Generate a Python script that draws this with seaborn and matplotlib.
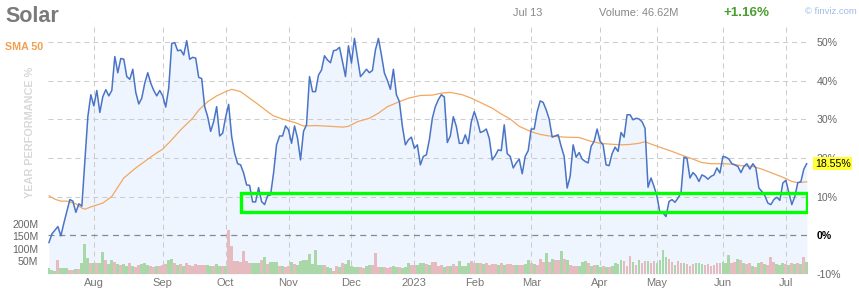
import matplotlib
matplotlib.use("Agg")
import matplotlib.pyplot as plt
import matplotlib.transforms as mtransforms
from matplotlib.patches import Rectangle
import seaborn as sns
import pandas as pd

sns.set_theme(style="white")
plt.rcParams['font.family'] = ['Liberation Sans', 'DejaVu Sans']

# ---------------- data (trading-day index 0 = Jul 11 2022) ----------------
perf_days = [0, 1, 3, 4, 5, 6, 7, 8, 9, 10, 11, 13, 14, 15, 16, 17, 18, 19, 20, 21,
             22, 23, 24, 25, 26, 27, 28, 29, 30, 31, 32, 33, 34, 35, 36, 37, 38, 39, 40, 41,
             42, 43, 44, 45, 46, 47, 48, 49, 50, 51, 52, 53, 54, 55, 56, 57, 58, 59, 60, 61,
             62, 63, 64, 65, 66, 67, 68, 69, 70, 71, 72, 73, 74, 75, 76, 77, 78, 79, 80, 81,
             82, 83, 84, 85, 86, 87, 88, 89, 90, 91, 92, 93, 94, 95, 96, 97, 98, 99, 100, 101,
             102, 104, 105, 106, 107, 108, 109, 110, 111, 112, 113, 114, 115, 116, 117, 118, 119, 120, 121, 122,
             123, 124, 125, 126, 127, 128, 129, 130, 131, 132, 133, 134, 135, 136, 137, 138, 139, 140, 141, 142,
             143, 144, 145, 146, 147, 148, 149, 150, 151, 152, 153, 154, 155, 156, 157, 158, 159, 160, 161, 162,
             163, 164, 165, 166, 167, 168, 169, 170, 171, 172, 173, 174, 175, 176, 177, 178, 179, 180, 181, 182,
             183, 184, 185, 186, 187, 188, 189, 190, 191, 192, 193, 194, 195, 196, 197, 198, 199, 200, 201, 202,
             203, 204, 205, 206, 207, 208, 209, 210, 211, 212, 213, 214, 215, 216, 217, 218, 219, 220, 221, 222,
             223, 224, 225, 226, 227, 228, 229, 230, 231, 232, 233, 234, 235, 236, 237, 238, 239, 240, 241, 242,
             243, 244, 245, 246, 248, 249, 250, 251, 252, 253]
perf_vals = [-2.0, 0.3, 2.2, -0.2, 3.1, 6.1, 9.2, 8.8, 5.9, 8.1, 7.5, 30.7, 36.4, 33.5, 37.5, 31.8, 35.9, 37.7, 36.1, 37.5,
             46.3, 42.1, 45.8, 45.6, 41.1, 40.4, 43.0, 37.0, 34.0, 35.5, 39.4, 42.1, 39.4, 37.5, 36.1, 37.5, 36.1, 33.2, 38.1, 49.7,
             49.9, 47.8, 48.0, 46.7, 50.4, 45.6, 46.1, 45.9, 40.9, 40.6, 33.3, 30.7, 26.9, 29.4, 33.3, 25.7, 26.4, 30.6, 33.9, 25.6,
             21.2, 18.5, 18.2, 16.1, 13.0, 12.9, 8.6, 8.6, 12.3, 8.7, 7.9, 10.2, 10.4, 16.1, 23.4, 25.7, 25.7, 28.3, 27.3, 23.8,
             28.3, 25.1, 19.5, 26.9, 28.6, 41.1, 37.2, 37.2, 41.5, 42.8, 46.5, 45.4, 44.7, 47.8, 48.0, 48.7, 45.0, 41.1, 49.1, 44.6,
             51.0, 41.1, 42.0, 43.0, 42.1, 42.7, 48.0, 51.0, 46.7, 42.0, 40.1, 37.8, 43.0, 36.4, 34.6, 28.2, 23.4, 24.7, 25.4, 22.5,
             23.4, 18.2, 20.4, 20.8, 24.7, 30.3, 33.3, 35.1, 36.4, 35.8, 24.0, 25.7, 30.7, 28.2, 23.8, 23.8, 26.0, 23.7, 29.4, 32.0,
             29.7, 26.6, 26.9, 27.5, 25.1, 19.5, 20.6, 22.1, 21.9, 28.6, 21.1, 20.4, 17.4, 18.7, 19.7, 15.9, 20.4, 21.9, 27.5, 27.5,
             32.0, 34.8, 34.4, 32.5, 30.1, 25.4, 25.7, 26.0, 23.0, 20.4, 12.2, 15.2, 23.4, 20.2, 21.4, 19.7, 19.1, 18.7, 23.0, 24.3,
             27.5, 24.3, 23.4, 18.2, 18.0, 21.1, 22.8, 21.7, 26.6, 25.4, 31.2, 31.2, 29.9, 30.3, 30.1, 29.4, 27.7, 12.4, 14.8, 12.6,
             10.0, 5.7, 5.7, 4.8, 8.7, 9.2, 8.5, 9.6, 10.9, 20.2, 19.9, 14.8, 16.2, 15.4, 13.9, 15.6, 15.2, 14.5, 15.2, 15.6,
             17.4, 16.1, 20.4, 20.2, 19.7, 18.5, 18.2, 17.8, 16.2, 17.8, 18.5, 17.1, 18.5, 17.4, 12.2, 11.3, 10.2, 8.3, 7.9, 9.2,
             9.8, 9.0, 13.5, 14.2, 7.9, 10.0, 13.6, 13.8, 17.1, 18.55]

sma_days = [0, 2, 4, 6, 9, 11, 12, 14, 18, 21, 25, 29, 32, 35, 38, 41, 44, 48, 50, 53,
            56, 59, 61, 64, 67, 70, 73, 75, 78, 82, 85, 89, 94, 98, 100, 103, 107, 110, 113, 117,
            120, 124, 128, 131, 134, 138, 141, 144, 148, 151, 154, 157, 161, 164, 167, 172, 177, 181, 184, 187,
            191, 194, 197, 199, 201, 205, 208, 211, 215, 218, 221, 225, 228, 231, 235, 238, 241, 245, 248, 250, 253]
sma_vals = [10.2, 9.3, 8.8, 8.8, 8.1, 7.0, 6.7, 7.3, 8.3, 10.0, 14.8, 17.4, 19.1, 20.8, 22.3, 24.7, 27.3, 30.3, 32.4, 34.6,
            36.1, 37.2, 37.8, 37.2, 35.5, 33.8, 32.0, 30.9, 30.1, 29.2, 28.3, 28.4, 28.2, 28.0, 28.2, 29.4, 30.3, 31.6, 33.3, 34.6,
            35.5, 36.2, 36.3, 36.8, 37.0, 36.4, 35.5, 34.4, 32.9, 31.4, 30.1, 28.2, 26.8, 26.1, 25.7, 25.4, 25.3, 24.3, 23.8, 23.6,
            23.4, 23.5, 23.8, 24.2, 23.6, 22.5, 21.7, 20.8, 19.7, 18.8, 18.5, 18.5, 18.4, 18.0, 17.8, 17.1, 16.2, 15.0, 13.9, 13.6, 13.8]

# daily volume in millions, and direction of the day (g = up, r = down)
vol_m = [24, 17, 13, 55, 24, 24, 24, 16, 16, 20, 19, 42, 119, 63, 42, 45, 42, 42, 87, 56,
         40, 56, 46, 38, 35, 40, 30, 45, 30, 28, 35, 38, 42, 36, 30, 28, 30, 32, 34, 40,
         55, 60, 45, 35, 38, 30, 45, 35, 32, 38, 35, 36, 36, 36, 32, 32, 40, 32, 32, 32,
         175, 111, 52, 50, 49, 91, 52, 42, 42, 42, 42, 56, 66, 40, 46, 46, 46, 33, 32, 29,
         32, 49, 38, 36, 52, 56, 56, 79, 40, 95, 36, 36, 36, 26, 22, 13, 32, 26, 42, 40,
         56, 32, 26, 26, 26, 22, 32, 36, 36, 85, 26, 26, 26, 22, 26, 32, 26, 26, 22, 26,
         42, 36, 36, 36, 45, 42, 40, 36, 48, 49, 32, 36, 26, 32, 32, 40, 32, 53, 32, 32,
         45, 53, 45, 42, 45, 40, 42, 36, 40, 40, 36, 42, 36, 40, 40, 36, 36, 36, 36, 40,
         56, 42, 40, 36, 58, 49, 85, 49, 58, 56, 56, 91, 58, 56, 36, 32, 32, 32, 48, 50,
         42, 32, 36, 36, 29, 32, 26, 29, 32, 45, 40, 56, 53, 32, 71, 49, 36, 56, 42, 53,
         53, 42, 52, 42, 56, 95, 66, 61, 49, 36, 53, 42, 42, 40, 32, 40, 45, 45, 40, 36,
         40, 32, 36, 42, 45, 49, 45, 75, 42, 49, 58, 56, 45, 40, 42, 32, 26, 45, 49, 40,
         36, 66, 49, 40, 36, 45, 40, 36, 42, 40, 45, 38, 66, 49]
vol_dir = list("gggrgggrrgrgggrgrggr"
               "ggrgrggrgrrgggrrgrrr"
               "ggrgrgrrrrrrrggrggrg"
               "rrrrrrrrgggrgrgggrgr"
               "rgrgggggggggrggrrgrg"
               "ggggrrggrrrgrrrggrgg"
               "grrgggrgrrrrgrgrrggg"
               "grrgrgrrrrgrgrrrgrrg"
               "grgrrrgrgrrgrgrrrggg"
               "rgrggrgrggggrrrgrgrr"
               "grrggggrrgrrgrrrgggr"
               "rrrrrgggrrgrgrrgrgrg"
               "rrrgggrgrgrgrgrgrg")

month_pos = [15, 38, 59, 80, 101, 122, 142, 161, 184, 203, 225, 246]
month_labels = ['Aug', 'Sep', 'Oct', 'Nov', 'Dec', '2023', 'Feb', 'Mar', 'Apr', 'May', 'Jun', 'Jul']
pct_ticks = [-10, 0, 10, 20, 30, 40, 50]
pct_labels = ['-10%', '0%', '10%', '20%', '30%', '40%', '50%']
vol_ticks = [50, 100, 150, 200]
vol_labels = ['50M', '100M', '150M', '200M']
last_pct = 18.55
box_x0, box_x1 = 64, 253
box_lo, box_hi = 5.9, 10.8

# ---------------- figure ----------------
W, H = 859, 294
fig = plt.figure(figsize=(W / 100, H / 100), dpi=100)
fig.patch.set_facecolor('white')
rect = [48 / W, 20 / H, 760 / W, 251 / H]
XLIM = (-0.3, 253.4)
YLIM = (-10.1, 55)

ax = fig.add_axes(rect)
ax.set_xlim(*XLIM)
ax.set_ylim(*YLIM)
ax.fill_between(perf_days, perf_vals, YLIM[0], color='#eef5fe', lw=0, zorder=0)
dash = (0, (4.8, 3.8))
ax.axhline(0, color='#888888', lw=0.9, linestyle=dash, zorder=1)
for s in ax.spines.values():
    s.set_visible(False)

# volume
ax_vol = ax.twinx()
vdf = pd.DataFrame({'day': list(range(len(vol_m))), 'vol': vol_m,
                    'dir': ['up' if d == 'g' else 'down' for d in vol_dir[:len(vol_m)]]})
sns.barplot(data=vdf, x='day', y='vol', hue='dir', palette={'up': '#a9d7a8', 'down': '#e6bbc0'},
            native_scale=True, width=0.95, dodge=False, legend=False, errorbar=None,
            saturation=1, linewidth=0, ax=ax_vol)
ax_vol.set_ylim(0, 996)
ax_vol.set_xlim(*XLIM)
ax_vol.yaxis.tick_left()
ax_vol.yaxis.set_label_position('left')
ax_vol.set_yticks(vol_ticks, labels=vol_labels)
ax_vol.tick_params(axis='y', left=False, right=False, labelleft=True, labelright=False,
                   length=0, pad=7, labelsize=7.6, labelcolor='#666666')
ax_vol.tick_params(axis='x', bottom=False, labelbottom=False)
ax_vol.set_xlabel('')
ax_vol.set_ylabel('')
for s in ax_vol.spines.values():
    s.set_visible(False)

# percent axis on the right, months at the bottom
ax.set_yticks(pct_ticks, labels=pct_labels)
ax.set_xticks(month_pos, labels=month_labels)
ax.set_xlim(*XLIM)
ax.yaxis.tick_right()
ax.tick_params(axis='y', left=False, right=False, labelleft=False, labelright=True,
               length=0, pad=6, labelsize=7.6, labelcolor='#666666')
ax.tick_params(axis='x', length=0, pad=3, labelsize=8, labelcolor='#777777', labelbottom=True)
for lbl in ax.get_yticklabels():
    if lbl.get_text() == '0%':
        lbl.set_color('black')
        lbl.set_fontweight('bold')
ax.grid(True, axis='both', color='#cccccc', lw=0.75, linestyle=dash)
ax.yaxis.get_gridlines()[0].set_visible(False)
ax.yaxis.get_gridlines()[1].set_visible(False)

# lines on top
ax_ln = fig.add_axes(rect, sharex=ax, sharey=ax)
ax_ln.patch.set_visible(False)
sns.lineplot(x=sma_days, y=sma_vals, ax=ax_ln, color='#f2a860', lw=0.9, zorder=3)
sns.lineplot(x=perf_days, y=perf_vals, ax=ax_ln, color='#4a74c6', lw=1.1, zorder=4)
ax_ln.add_patch(Rectangle((box_x0, box_lo), box_x1 - box_x0, box_hi - box_lo,
                          fill=False, edgecolor='#00ff00', lw=2.4, zorder=5))
ax_ln.axis('off')
ax.set_xlim(*XLIM)
ax.set_ylim(*YLIM)

# last value tag
tr = mtransforms.blended_transform_factory(ax.transAxes, ax.transData)
ax_ln.text(1 + 7 / 760, last_pct, f'{last_pct:.2f}%', transform=tr, ha='left', va='center',
           fontsize=7.6, color='black', clip_on=False,
           bbox=dict(facecolor='#ffff33', edgecolor='none', boxstyle='square,pad=0.15'))

# header texts
fig.text(5 / W, 1 - 16 / H, 'Solar', fontsize=15.5, fontweight='bold', color='#7a7a7a', va='center', ha='left')
fig.text(5 / W, 1 - 47 / H, 'SMA 50', fontsize=7.7, fontweight='bold', color='#f0a050', va='center', ha='left')
fig.text(30 / W, 1 - 132 / H, 'YEAR PERFORMANCE %', fontsize=7.8, fontweight='bold', color='#d8d8d8',
         rotation=90, va='center', ha='center')
fig.text(528 / W, 1 - 13 / H, 'Jul 13', fontsize=7.9, color='#888888', va='center', ha='center')
fig.text(599 / W, 1 - 13 / H, 'Volume: 46.62M', fontsize=7.9, color='#888888', va='center', ha='left')
fig.text(723 / W, 1 - 13 / H, '+1.16%', fontsize=9.6, fontweight='bold', color='#4a9d2f', va='center', ha='left')
fig.text(805 / W, 1 - 11 / H, '\u00a9 finviz.com', fontsize=6.8, color='#a0bce8', va='center', ha='left')

fig.savefig('out.png', dpi=100)
